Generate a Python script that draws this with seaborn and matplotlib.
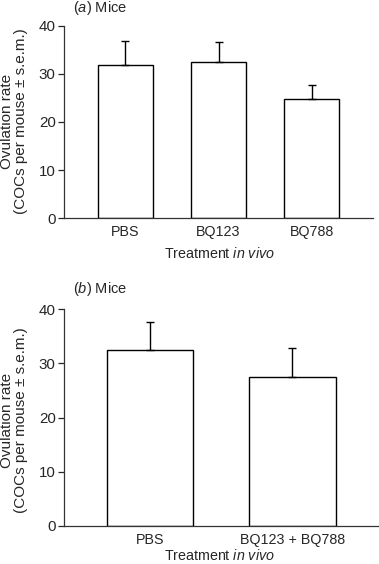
import matplotlib
matplotlib.use("Agg")
import matplotlib.pyplot as plt
import seaborn as sns
import pandas as pd

# panel (a)
groups_a = ["PBS", "BQ123", "BQ788"]
rate_a = [31.8, 32.5, 24.8]
sem_a = [5.1, 4.1, 2.9]

# panel (b)
groups_b = ["PBS", "BQ123 + BQ788"]
rate_b = [32.5, 27.4]
sem_b = [5.2, 5.4]

sns.set_style("ticks")
plt.rcParams["font.family"] = ["Liberation Sans", "DejaVu Sans"]
plt.rcParams["mathtext.fontset"] = "custom"
plt.rcParams["mathtext.rm"] = "Liberation Sans"
plt.rcParams["mathtext.it"] = "Liberation Sans:italic"
FS = 10.3

W, H = 379, 564
fig = plt.figure(figsize=(W / 100, H / 100), dpi=100)

def px_axes(left, top, right, bottom):
    return fig.add_axes([left / W, 1 - bottom / H, (right - left) / W, (bottom - top) / H])

def panel(ax, groups, rate, sem, xlim, width):
    df = pd.DataFrame({"group": groups, "rate": rate})
    sns.barplot(data=df, x="group", y="rate", ax=ax, color="white",
                edgecolor="black", linewidth=1.0, width=width, errorbar=None)
    ax.errorbar(range(len(groups)), rate, yerr=[[0] * len(sem), sem], fmt="none",
                ecolor="black", elinewidth=1.0, capsize=3, capthick=1.0)
    ax.set_xlim(*xlim)
    ax.set_ylim(0, 40)
    ax.set_yticks([0, 10, 20, 30, 40])
    ax.tick_params(axis="y", labelsize=FS + 0.6, length=4, width=0.9, pad=2)
    ax.tick_params(axis="x", labelsize=FS, length=0, pad=5)
    for s in ["top", "right"]:
        ax.spines[s].set_visible(False)
    for s in ["left", "bottom"]:
        ax.spines[s].set_linewidth(0.9)
        ax.spines[s].set_color("#333333")
    ax.set_xlabel("")
    ax.set_ylabel("")

ax1 = px_axes(64, 25.7, 373, 218.3)
panel(ax1, groups_a, rate_a, sem_a, (-0.66, 2.66), 0.6)
ax2 = px_axes(64, 309.3, 379, 525.7)
panel(ax2, groups_b, rate_b, sem_b, (-0.606, 1.61), 0.61)

ylab = "Ovulation rate\n(COCs per mouse \u00b1 s.e.m.)"
fig.text(14 / W, 1 - 121 / H, ylab, fontsize=11, rotation=90,
         ha="center", va="center", linespacing=0.95, multialignment="center")
fig.text(14 / W, 1 - 420 / H, ylab, fontsize=11, rotation=90,
         ha="center", va="center", linespacing=0.95, multialignment="center")

fig.text(219 / W, 1 - 254 / H, "Treatment $\\mathit{in\\ vivo}$", fontsize=FS,
         ha="center", va="center")
fig.text(219 / W, 1 - 555 / H, "Treatment $\\mathit{in\\ vivo}$", fontsize=FS,
         ha="center", va="center")

fig.text(73 / W, 1 - 8 / H, "($\\mathit{a}$) Mice", fontsize=FS + 0.2, va="center", ha="left")
fig.text(73 / W, 1 - 289.5 / H, "($\\mathit{b}$) Mice", fontsize=FS + 0.2, va="center", ha="left")

fig.savefig("out.png", dpi=100)
